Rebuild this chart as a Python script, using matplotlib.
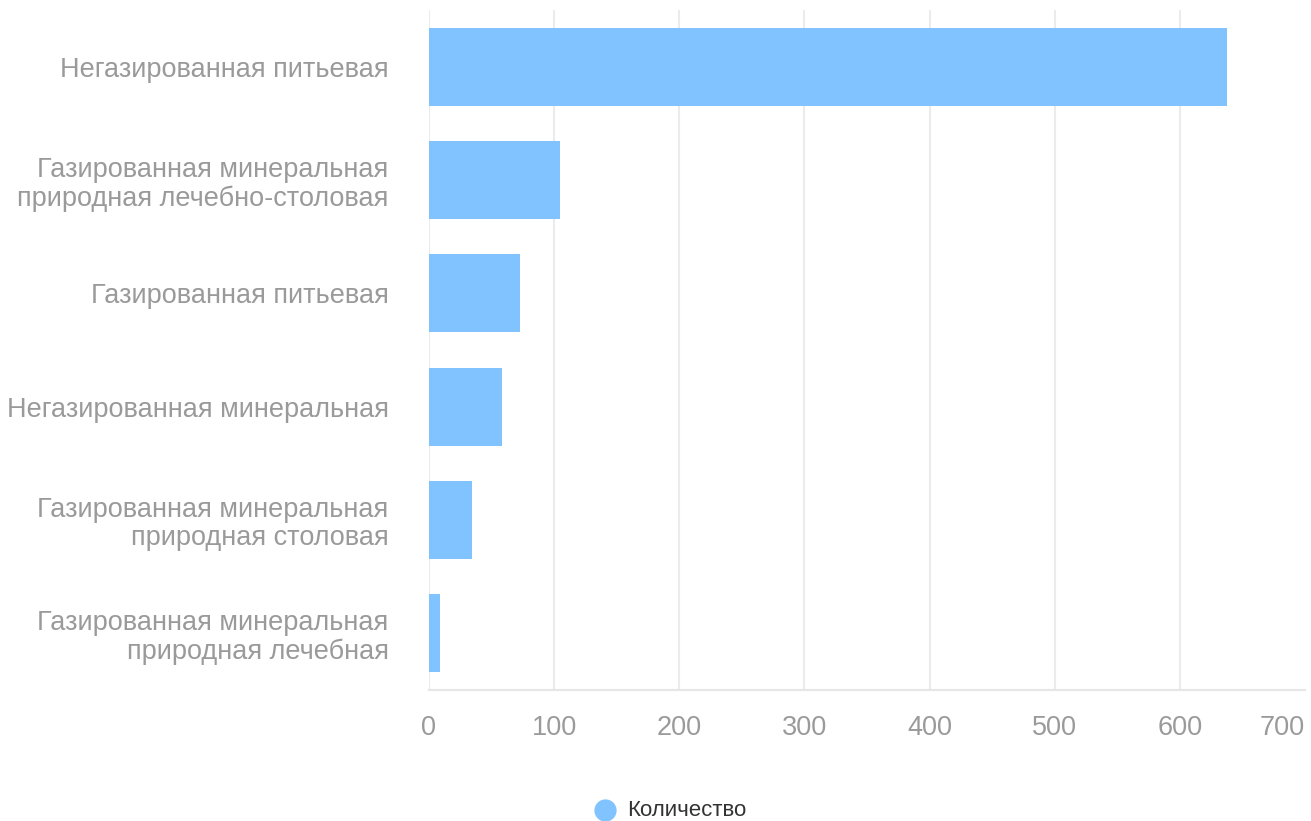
import matplotlib.pyplot as plt
from matplotlib.lines import Line2D

plt.rcParams['font.family'] = ['Liberation Sans', 'DejaVu Sans']

categories = [
    'Негазированная питьевая',
    'Газированная минеральная\nприродная лечебно-столовая',
    'Газированная питьевая',
    'Негазированная минеральная',
    'Газированная минеральная\nприродная столовая',
    'Газированная минеральная\nприродная лечебная',
]
counts = [638, 105, 73, 58, 34, 9]
x_ticks = [0, 100, 200, 300, 400, 500, 600, 700]

bar_color = '#80c3fe'
label_color = '#9a9a9a'

fig = plt.figure(figsize=(13.11, 8.21), dpi=100)
ax = fig.add_axes([429 / 1311, 1 - 690 / 821, (1305 - 429) / 1311, 680 / 821])

y = list(range(len(categories)))
ax.barh(y, counts, height=0.69, color=bar_color, zorder=3)
ax.set_ylim(len(categories) - 0.5, -0.5)
ax.set_xlim(0, 700)
ax.set_xticks(x_ticks)
ax.set_yticks(y)
ax.set_yticklabels(categories, ha='right', linespacing=1.12)

ax.tick_params(axis='x', length=0, pad=18, labelsize=19.5, labelcolor=label_color)
ax.tick_params(axis='y', length=0, pad=29, labelsize=19.5, labelcolor=label_color)
ax.get_xticklabels()[-1].set_ha('right')

ax.grid(axis='x', color='#ebebeb', linewidth=1.5, zorder=0)
ax.get_xgridlines()[-1].set_visible(False)
for side in ['top', 'right', 'left']:
    ax.spines[side].set_visible(False)
ax.spines['bottom'].set_color('#e6e6e6')
ax.spines['bottom'].set_linewidth(1.5)

# legend drawn by hand: dot + label
ly = 1 - 810 / 821
fig.add_artist(Line2D([605 / 1311], [ly], marker='o', markersize=15, color=bar_color,
                      linestyle='none', transform=fig.transFigure))
fig.text(627 / 1311, ly, 'Количество', color='#333333', fontsize=16,
         ha='left', va='center')

fig.savefig('out.png', dpi=100)
